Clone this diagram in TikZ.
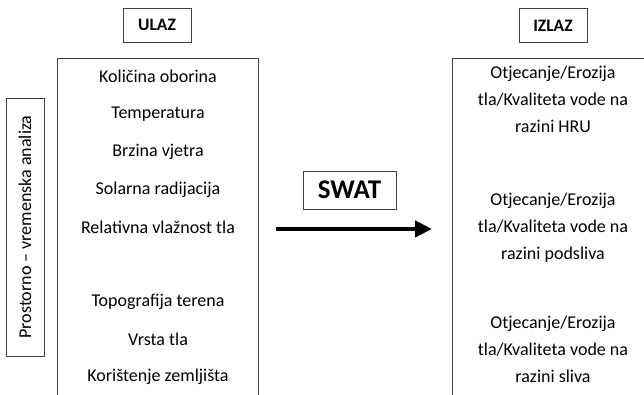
\documentclass[tikz,border=0pt]{standalone}
\usepackage{fontspec}
\setmainfont{Carlito}
\usetikzlibrary{positioning}
\usetikzlibrary {arrows.meta}
\tikzset{headbox/.style={rectangle,draw=black!75,fill=white,line width=0.8pt,
inner sep=2pt,minimum height=34pt, minimum width=68pt,font=\bfseries\fontsize{17.5}{20}\selectfont}}
\tikzset{listbox/.style={rectangle,draw=black!75,line width=0.8pt,
anchor=north west,inner sep=0pt}}
\tikzset{listitem/.style={rectangle,draw=none,align=center,
inner sep=0pt,font=\fontsize{18}{27}\selectfont}}

\begin{document}
\begin{tikzpicture}[x=1pt,y=-1pt]
        \useasboundingbox (0,0) rectangle (644,395);
        \clip (0,0) rectangle (644,395);

        \node[headbox] (ulaz) at (157, 25) {ULAZ};
        \node[headbox] (izlaz) at (553, 25.5) {IZLAZ};

        \node[listbox, minimum width=201pt, minimum height=345pt] (inbox) at (57, 58) {};
        \node[listbox, minimum width=210pt, minimum height=345pt] (outbox) at (452, 58) {};

        \node[headbox, rotate=90, minimum width=258pt, minimum height=38pt,
              font=\fontsize{18}{20}\selectfont] (analiza) at (25, 227) {Prostorno -- vremenska analiza};

        \node[listitem] (oborina) at (158, 76) {Količina oborina};
        \node[listitem] (temp) at (158, 114) {Temperatura};
        \node[listitem] (vjetar) at (158, 152) {Brzina vjetra};
        \node[listitem] (radijacija) at (158, 190) {Solarna radijacija};
        \node[listitem] (vlaga) at (158, 227) {Relativna vlažnost tla};
        \node[listitem] (topo) at (158, 302) {Topografija terena};
        \node[listitem] (tlo) at (158, 339) {Vrsta tla};
        \node[listitem] (zemljiste) at (158, 377) {Korištenje zemljišta};

        \node[listitem] (hru) at (553, 99) {Otjecanje/Erozija\\tla/Kvaliteta vode na\\razini HRU};
        \node[listitem] (podsliv) at (553, 228) {Otjecanje/Erozija\\tla/Kvaliteta vode na\\razini podsliva};
        \node[listitem] (sliv) at (553, 349) {Otjecanje/Erozija\\tla/Kvaliteta vode na\\razini sliva};

        \node[headbox, minimum width=93pt, minimum height=38pt,
              font=\bfseries\fontsize{27}{30}\selectfont] (swat) at (349.5, 190) {SWAT};

        \coordinate (arrowl) at (276, 229);
        \coordinate (arrowr) at (432, 229);
        \draw [line width=4.5pt,-{Triangle[length=17pt,width=16pt]}] (arrowl) -- (arrowr);

\end{tikzpicture}
\end{document}
